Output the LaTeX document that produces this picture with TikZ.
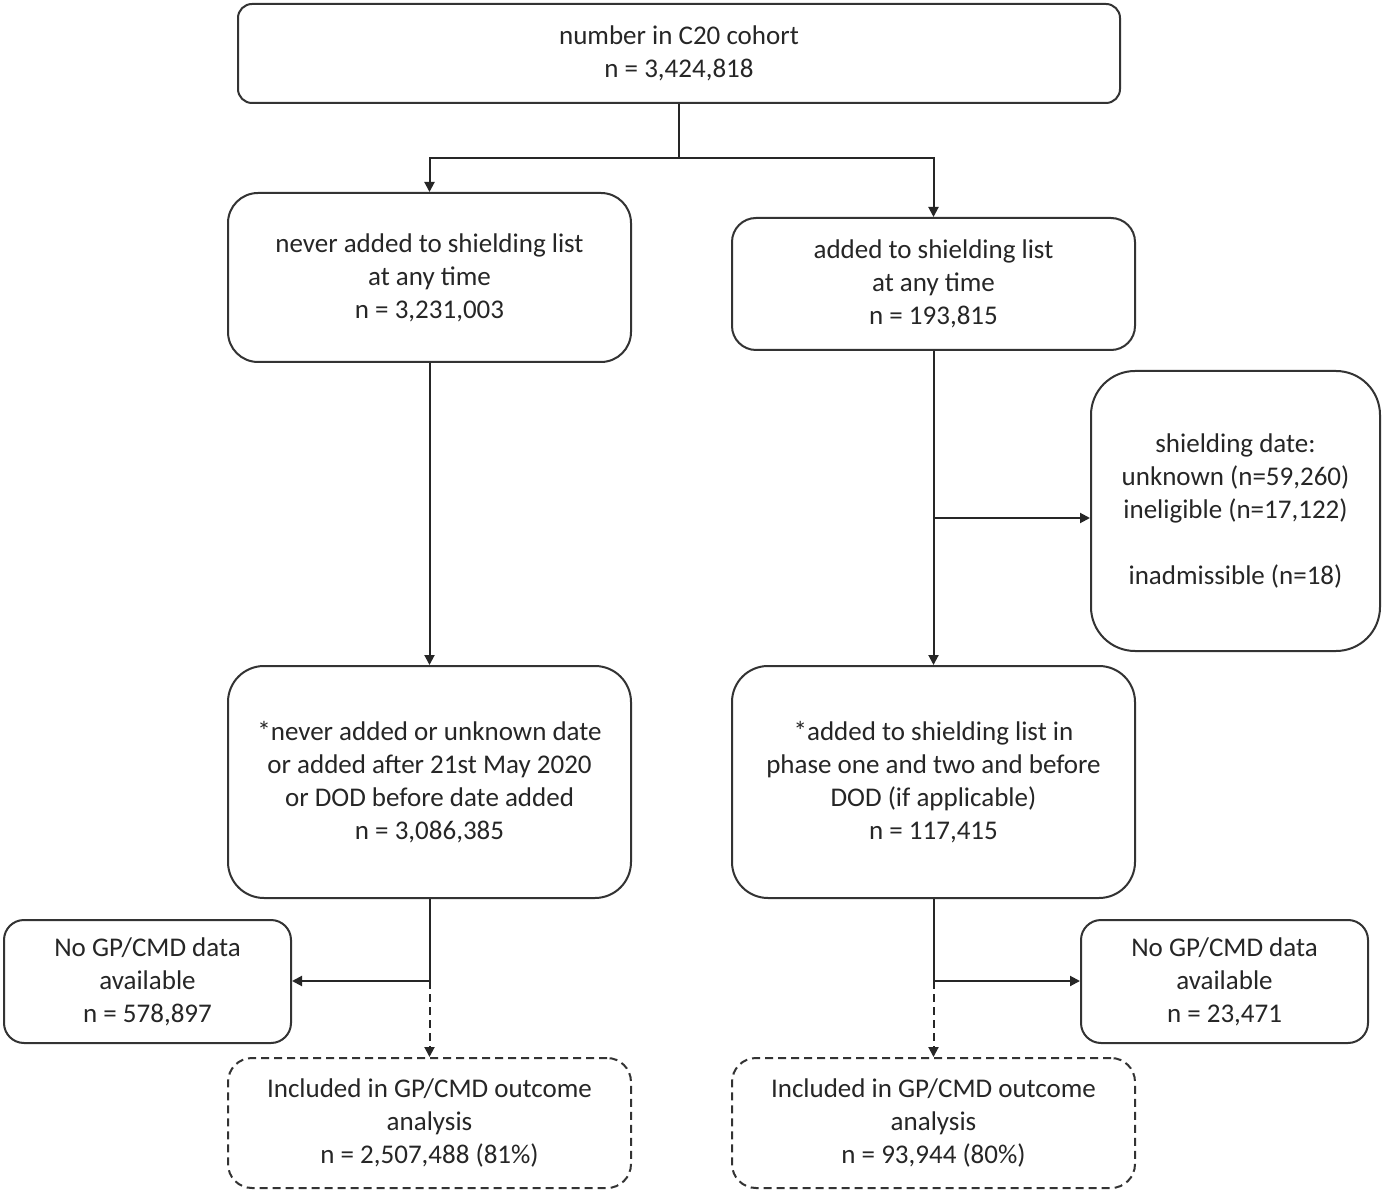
\documentclass[tikz,border=0pt]{standalone}
\usepackage{fontspec}
\setmainfont{Carlito}
\usetikzlibrary{arrows.meta}
\begin{document}
\begin{tikzpicture}[x=0.5pt,y=-0.5pt,
  box/.style={draw=black!80, line width=1pt, align=center, inner sep=0pt,
    font=\fontsize{13.5}{16.5}\selectfont, text=black!85},
  dbox/.style={box, dash pattern=on 4pt off 2.5pt},
  link/.style={line width=1pt, draw=black!85},
  arr/.style={link, -{Triangle[length=5pt,width=5pt]}}]
\useasboundingbox (0,0) rectangle (1382,1192);
\fill[white] (0,0) rectangle (1382,1192);

\node[box, rounded corners=7pt, minimum width=441pt, minimum height=49.5pt] (T) at (679,53.5)
  {number in C20 cohort\\n = 3,424,818};
\node[box, rounded corners=15pt, minimum width=201.5pt, minimum height=84.5pt] (A) at (429.5,277.5)
  {never added to shielding list\\at any time\\n = 3,231,003};
\node[box, rounded corners=12pt, minimum width=201.5pt, minimum height=66pt] (B) at (933.5,284)
  {added to shielding list\\at any time\\n = 193,815};
\node[box, rounded corners=22pt, minimum width=144.5pt, minimum height=140pt] (S) at (1235.5,511)
  {shielding date:\\unknown (n=59,260)\\ineligible (n=17,122)\\[16.5pt]inadmissible (n=18)};
\node[box, rounded corners=18pt, minimum width=201.5pt, minimum height=116pt] (C) at (429.5,782)
  {*never added or unknown date\\or added after 21st May 2020\\or DOD before date added\\n = 3,086,385};
\node[box, rounded corners=18pt, minimum width=201.5pt, minimum height=116pt] (D) at (933.5,782)
  {*added to shielding list in\\phase one and two and before\\DOD (if applicable)\\n = 117,415};
\node[box, rounded corners=10pt, minimum width=143.5pt, minimum height=61.5pt] (E) at (147.5,981.5)
  {No GP/CMD data\\available\\n = 578,897};
\node[box, rounded corners=10pt, minimum width=143.5pt, minimum height=61.5pt] (F) at (1224.5,981.5)
  {No GP/CMD data\\available\\n = 23,471};
\node[dbox, rounded corners=12pt, minimum width=201.5pt, minimum height=65pt] (G) at (429.5,1123)
  {Included in GP/CMD outcome\\analysis\\n = 2,507,488 (81\%)};
\node[dbox, rounded corners=12pt, minimum width=201.5pt, minimum height=65pt] (H) at (933.5,1123)
  {Included in GP/CMD outcome\\analysis\\n = 93,944 (80\%)};

\coordinate (j1) at (679,158);
\draw[link] (T.south) -- (j1);
\draw[arr] (j1) -| (A.north);
\draw[arr] (j1) -| (B.north);
\draw[arr] (A.south) -- (C.north);
\draw[arr] (B.south) -- (D.north);
\coordinate (j2) at (933.5,518);
\draw[arr] (j2) -- (j2 -| S.west);
\coordinate (j3) at (429.5,981);
\coordinate (j4) at (933.5,981);
\draw[link] (C.south) -- (j3);
\draw[arr] (j3) -- (j3 -| E.east);
\draw[arr, dash pattern=on 4pt off 2.5pt] (j3) -- (G.north);
\draw[link] (D.south) -- (j4);
\draw[arr] (j4) -- (j4 -| F.west);
\draw[arr, dash pattern=on 4pt off 2.5pt] (j4) -- (H.north);
\end{tikzpicture}
\end{document}
